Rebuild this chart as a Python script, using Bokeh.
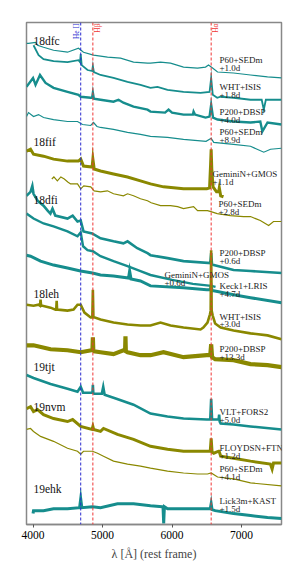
import math
from bokeh.plotting import figure
from bokeh.models import Range1d, Span, Label, FixedTicker
from bokeh.core.properties import value
from bokeh.embed import file_html
from bokeh.resources import INLINE

# ---------------- data (rest-frame wavelength [A], offset flux [arb.]) ----------------
s01_wave = [3906,3935,4036,4064,4151,4295,4496,4654,4726,4870,5072,5259,5446,5647,5690,5834,5978,6165,6367,6482,6525,6583,6655,6885,7129,7374,7575]
s01_flux = [486,486,487,484,482,479,477,481,477,474,472,471,467,466,466,467,466,462,461,462,464,461,457,456,454,452,451]

s02_wave = [4007,4080,4151,4295,4496,4654,4676,4686,4700,4784,4850,4861,4875,4971,5158,5359,5546,5690,5791,5935,6165,6410,6540,6563,6586,6650,6698,6885,7129,7290,7320,7350,7575]
s02_flux = [484,474,470,468,467,469,467,475,464,459,458,463,457,454,451,447,444,441,442,439,437,436,437,451,434,431,432,431,429,429,419,429,429]

s03_wave = [3906,4000,4036,4100,4180,4295,4496,4654,4686,4830,4850,4861,4875,4971,5158,5230,5300,5446,5647,5690,5900,5950,6000,6165,6300,6310,6330,6482,6540,6563,6590,6655,6885,7129,7270,7300,7374,7575]
s03_flux = [442,451,444,454,446,441,437,434,432,431,431,436,430,429,427,429,426,422,419,417,416,419,416,414,414,417,414,411,412,424,411,409,407,406,407,397,406,404]

s04_wave = [3906,3935,4007,4079,4151,4295,4496,4640,4712,4830,4870,4920,4971,5158,5359,5546,5690,5935,6165,6490,6563,6600,6885,7129,7320,7417,7575]
s04_flux = [412,416,412,414,411,409,407,407,404,403,406,402,401,399,396,394,392,391,389,387,390,386,384,382,376,379,380]

s05_wave = [3906,3964,4007,4151,4295,4496,4654,4686,4726,4850,4861,4880,4971,5158,5359,5546,5690,5877,6165,6500,6540,6555,6563,6572,6590,6640,6670,6680,6700,6740]
s05_flux = [377,379,374,372,369,367,367,369,362,361,369,359,357,354,351,347,344,341,339,339,340,364,379,359,341,336,336,340,332,331]

s06_wave = [4270,4300,4350,4400,4450,4500,4540,4640,4686,4730,4830,4880,4971,5070,5158,5300,5360,5446,5546,5647,5700,5834,5978,6080,6165,6310,6367,6510,6560,6650,6840,7030,7129,7270,7390,7460,7575]
s06_flux = [349,351,347,351,349,346,344,344,339,342,341,337,336,337,334,332,334,332,329,327,325,322,322,321,319,321,317,317,316,314,312,311,311,307,302,306,306]

s07_wave = [3906,3964,3990,4007,4065,4151,4210,4250,4280,4320,4496,4570,4640,4686,4726,4850,4971,5158,5300,5360,5500,5647,5690,5935,6165,6550,6563,6575,6600,6885,7129,7575]
s07_flux = [332,336,342,334,327,322,317,314,319,312,309,312,306,307,296,294,289,286,284,286,279,274,272,269,266,264,274,263,262,257,256,254]

s08_wave = [3906,4007,4151,4295,4496,4640,4686,4720,4784,4861,4971,5158,5359,5546,5690,6000,6300,6563,6626]
s08_flux = [314,309,304,301,296,291,295,281,277,276,271,266,261,256,252,247,243,241,240]

s09_wave = [3906,3964,4108,4295,4496,4683,4856,4971,5158,5374,5390,5410,5546,5690,6165,6500,6550,6563,6576,6600,6885,7129,7575]
s09_flux = [272,271,266,262,259,256,254,252,251,249,256,248,246,241,239,237,237,241,236,236,232,229,224]

s10_wave = [3906,4007,4079,4100,4108,4116,4137,4252,4324,4334,4340,4346,4360,4496,4583,4640,4686,4740,4830,4853,4861,4869,4890,4971,5158,5359,5546,5690,5834,5978,6165,6410,6450,6510,6545,6556,6563,6570,6585,6620,6700,6885,7129,7374,7575]
s10_flux = [222,221,222,221,227,221,221,219,217,217,226,217,217,216,217,222,222,214,209,209,237,209,209,207,204,202,201,201,204,201,199,197,199,204,212,216,277,216,211,203,199,196,193,191,187]

s11_wave = [3906,4007,4252,4496,4686,4840,4855,4861,4867,4880,4971,5158,5300,5325,5330,5335,5360,5546,5690,5877,6165,6500,6550,6563,6576,6620,6885,7129,7374,7575]
s11_flux = [181,181,177,176,174,176,176,189,176,175,174,172,176,176,190,175,174,171,171,174,169,171,171,182,169,167,166,162,161,159]

s12_wave = [3906,4007,4252,4496,4640,4686,4720,4840,4855,4861,4867,4880,4990,5010,5030,5200,5446,5690,5934,6165,6500,6550,6563,6576,6600,6670,6678,6686,6700,6885,7129,7575]
s12_flux = [151,148,142,137,134,139,133,133,133,141,133,132,132,139,131,127,121,112,109,107,106,106,127,106,106,106,111,104,102,101,99,96]

s13_wave = [3906,3964,4007,4065,4151,4295,4496,4570,4686,4850,4861,4872,4971,5014,5215,5446,5690,5935,6165,6500,6550,6563,6576,6600,6670,6678,6700,6885,7129,7415,7440,7460,7575]
s13_flux = [117,119,114,116,111,107,104,106,99,96,99,96,94,97,91,86,79,76,74,74,74,87,73,72,74,74,69,67,64,61,56,62,62]

s14_wave = [3906,3964,4007,4108,4295,4496,4640,4686,4726,4856,4928,5014,5158,5359,5546,5690,5935,6165,6367,6510,6563,6655,6885,7129,7575]
s14_flux = [96,97,94,89,84,77,74,71,74,74,72,69,64,61,59,57,54,52,51,51,52,48,46,42,39]

s15_wave = [4000,4007,4151,4295,4496,4670,4686,4702,4856,4971,5215,5446,5690,5860,5870,5880,5890,5935,6165,6500,6550,6563,6576,6620,6885,7129,7374,7575]
s15_flux = [11,14,14,16,16,17,26,17,18,17,21,21,19,18,18,1,18,16,16,16,16,21,15,14,11,9,7,6]

spec_waves = [s01_wave, s02_wave, s03_wave, s04_wave, s05_wave, s06_wave, s07_wave, s08_wave,
              s09_wave, s10_wave, s11_wave, s12_wave, s13_wave, s14_wave, s15_wave]
spec_fluxes = [s01_flux, s02_flux, s03_flux, s04_flux, s05_flux, s06_flux, s07_flux, s08_flux,
               s09_flux, s10_flux, s11_flux, s12_flux, s13_flux, s14_flux, s15_flux]
spec_group = ["teal", "teal", "teal", "teal", "olive", "olive", "teal", "teal",
              "teal", "olive", "olive", "teal", "olive", "olive", "teal"]
spec_instr = ["P60+SEDm", "WHT+ISIS", "P200+DBSP", "P60+SEDm", "GeminiN+GMOS", "P60+SEDm",
              "P200+DBSP", "GeminiN+GMOS", "Keck1+LRIS", "WHT+ISIS", "P200+DBSP",
              "VLT+FORS2", "FLOYDSN+FTN", "P60+SEDm", "Lick3m+KAST"]
spec_phase = ["+1.0d", "+1.8d", "+4.0d", "+8.9d", "+1.1d", "+2.8d", "+0.6d", "+0.6d",
              "+4.7d", "+3.0d", "+13.3d", "+5.0d", "+1.2d", "+4.1d", "+1.5d"]

sn_names = ["18dfc", "18fif", "18dfi", "18leh", "19tjt", "19nvm", "19ehk"]
sn_label_y = [488, 386, 328, 233, 159, 119, 36]

line_names = ["He II", "H\u03b2", "H\u03b1"]
line_waves = [4686, 4861, 6563]

# ---------------- styling / layout ----------------
TEAL = "#168d8d"
OLIVE = "#8a8800"
colors = {"teal": TEAL, "olive": OLIVE}
widths = [1.2, 1.8, 2.4, 1.2, 3.0, 1.2, 2.6, 2.4, 3.0, 2.6, 4.2, 2.6, 3.0, 1.2, 3.0]
lab_x = [6683, 6683, 6683, 6683, 6583, 6669, 6683, 5892, 6683, 6683, 6683, 6683, 6683, 6683, 6683]
lab_y = [469, 442, 417, 396, 354, 324, 274, 252, 241, 210, 177, 114, 77, 56, 24]
line_cols = ["#2b2bd0", "#f03535", "#f03535"]
SERIF = "Liberation Serif"

p = figure(width=291, height=563, output_backend="svg", toolbar_location=None,
           x_range=Range1d(3906, 7575), y_range=Range1d(0, 507),
           min_border_left=26, min_border_right=10, min_border_top=22, min_border_bottom=34)
p.grid.visible = False
p.yaxis.visible = False
p.outline_line_color = "#888888"
p.outline_line_width = 1.5
p.background_fill_color = "white"

ax = p.xaxis[0]
ax.ticker = FixedTicker(ticks=[4000, 5000, 6000, 7000])
ax.minor_tick_line_color = None
ax.axis_line_color = "#888888"
ax.axis_line_width = 1.5
ax.major_tick_line_color = "#555555"
ax.major_tick_out = 3
ax.major_tick_in = 0
ax.major_label_standoff = 3
ax.major_label_text_font = SERIF
ax.major_label_text_font_size = "11.5px"
ax.major_label_text_color = "black"
ax.axis_label = "\u03bb [\u00c5] (rest frame)"
ax.axis_label_text_font = SERIF
ax.axis_label_text_font_style = "normal"
ax.axis_label_text_font_size = "12px"
ax.axis_label_standoff = 5

for wv, col in zip(line_waves, line_cols):
    p.add_layout(Span(location=wv, dimension="height", line_color=col,
                      line_dash="3 2", line_width=1))

for w, f, g, lw in zip(spec_waves, spec_fluxes, spec_group, widths):
    p.line(w, f, line_color=colors[g], line_width=lw, line_join="miter")

# instrument / phase labels
p.text(x=lab_x, y=lab_y, text=spec_instr, text_font=value(SERIF),
       text_font_size=value("9px"), text_baseline="alphabetic", text_align="left",
       text_color="#222222")
p.text(x=lab_x, y=[v - 8 for v in lab_y], text=spec_phase, text_font=value(SERIF),
       text_font_size=value("9px"), text_baseline="alphabetic", text_align="left",
       text_color="#222222")

# SN names
p.text(x=[4007] * len(sn_names), y=sn_label_y, text=sn_names, text_font=value(SERIF),
       text_font_size=value("11.5px"), text_baseline="alphabetic", text_align="left",
       text_color="#111111")

# line IDs (rotated)
p.text(x=[line_waves[0]], y=[506], text=[line_names[0]], angle=math.pi / 2,
       text_font=value(SERIF), text_font_size=value("7.5px"), text_align="right",
       text_baseline="bottom", text_color=line_cols[0])
p.text(x=line_waves[1:], y=[506, 506], text=line_names[1:], angle=math.pi / 2,
       text_font=value(SERIF), text_font_size=value("7.5px"), text_align="right",
       text_baseline="top", text_color=line_cols[1])

# y-axis label F_lambda
p.add_layout(Label(x=3697, y=248, text="F", angle=math.pi / 2, text_font=SERIF,
                   text_font_size="11px", text_align="center", text_baseline="middle"))
p.add_layout(Label(x=3735, y=257, text="\u03bb", angle=math.pi / 2, text_font=SERIF,
                   text_font_size="7px", text_align="center", text_baseline="middle"))

open("out.html", "w").write(file_html(p, INLINE))
